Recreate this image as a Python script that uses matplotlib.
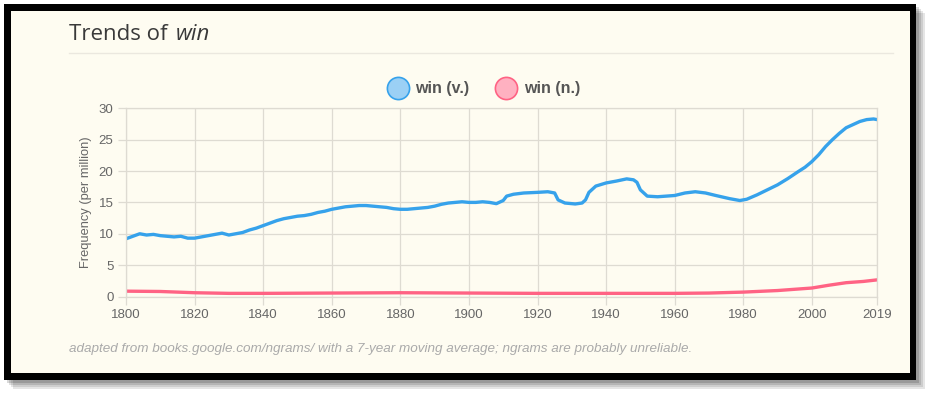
import matplotlib.pyplot as plt
from matplotlib.patches import Rectangle
from matplotlib.lines import Line2D

# ── Data ─────────────────────────────────────────────────────────────────
verb_years = [1800, 1802, 1804, 1806, 1808, 1810, 1812, 1814, 1816, 1818,
              1820, 1822, 1824, 1826, 1828, 1830, 1832, 1834, 1836, 1838,
              1840, 1842, 1844, 1846, 1848, 1850, 1852, 1854, 1856, 1858,
              1860, 1862, 1864, 1866, 1868, 1870, 1872, 1874, 1876, 1878,
              1880, 1882, 1884, 1886, 1888, 1890, 1892, 1894, 1896, 1898,
              1900, 1902, 1904, 1906, 1908, 1910, 1911, 1913, 1916, 1920,
              1923, 1925, 1926, 1928, 1931, 1933, 1934, 1935, 1937, 1940,
              1943, 1946, 1948, 1949, 1950, 1952, 1955, 1960, 1963, 1966,
              1969, 1972, 1976, 1979, 1981, 1984, 1987, 1990, 1993, 1996,
              1998, 2000, 2002, 2004, 2006, 2008, 2010, 2012, 2014, 2016,
              2018, 2019]
verb_freq = [9.2, 9.6, 10.0, 9.8, 9.9, 9.7, 9.6, 9.5, 9.6, 9.3,
             9.3, 9.5, 9.7, 9.9, 10.1, 9.8, 10.0, 10.2, 10.6, 10.9,
             11.3, 11.7, 12.1, 12.4, 12.6, 12.8, 12.9, 13.1, 13.4, 13.6,
             13.9, 14.1, 14.3, 14.4, 14.5, 14.5, 14.4, 14.3, 14.2, 14.0,
             13.9, 13.9, 14.0, 14.1, 14.2, 14.4, 14.7, 14.9, 15.0, 15.1,
             15.0, 15.0, 15.1, 15.0, 14.8, 15.3, 16.0, 16.3, 16.5, 16.6,
             16.7, 16.5, 15.4, 14.9, 14.75, 14.9, 15.4, 16.6, 17.6, 18.1,
             18.4, 18.75, 18.6, 18.2, 17.0, 16.0, 15.9, 16.1, 16.5, 16.7,
             16.5, 16.1, 15.6, 15.3, 15.5, 16.2, 17.0, 17.8, 18.8, 19.9,
             20.6, 21.5, 22.6, 23.9, 25.0, 26.0, 26.9, 27.4, 27.9, 28.2,
             28.3, 28.2]

noun_years = [1800, 1810, 1820, 1830, 1840, 1860, 1880, 1900, 1920, 1940,
              1960, 1970, 1980, 1990, 2000, 2005, 2010, 2015, 2019]
noun_freq = [0.85, 0.8, 0.6, 0.5, 0.5, 0.55, 0.6, 0.55, 0.5, 0.5,
             0.5, 0.55, 0.7, 0.95, 1.35, 1.8, 2.2, 2.4, 2.65]

x_ticks = [1800, 1820, 1840, 1860, 1880, 1900, 1920, 1940, 1960, 1980, 2000, 2019]
y_ticks = [0, 5, 10, 15, 20, 25, 30]

BLUE = "#36a2eb"
PINK = "#ff6384"
BG = "#fefcf1"
GRID = "#dedbd2"
TEXT = "#666666"

W, H = 929, 393
fig = plt.figure(figsize=(W / 100, H / 100), dpi=100)
fig.patch.set_facecolor("white")


def px_rect(x0, y0, x1, y1, **kw):
    # rectangle given in pixel coords (origin top-left)
    return Rectangle((x0 / W, 1 - y1 / H), (x1 - x0) / W, (y1 - y0) / H,
                     transform=fig.transFigure, **kw)


# ── Frame with soft shadow ───────────────────────────────────────────────
for i, a in enumerate([0.10, 0.10, 0.12, 0.15]):
    off = 9 - 2 * i
    fig.patches.append(px_rect(4 + off, 4 + off, 916 + off, 380 + off,
                               facecolor="black", alpha=a, linewidth=0, zorder=-5))
fig.patches.append(px_rect(4, 4, 916, 380, facecolor="black", linewidth=0, zorder=-4))
fig.patches.append(px_rect(11, 11, 910, 373, facecolor=BG, linewidth=0, zorder=-3))

# title + rule
fig.text(69 / W, 1 - 34 / H, "Trends of ", fontsize=16, color="#3a3a3a",
         family="Open Sans", va="center", ha="left")
fig.text(176 / W, 1 - 34 / H, "win", fontsize=16, color="#3a3a3a",
         family="Open Sans", style="italic", va="center", ha="left")
fig.lines.append(Line2D([69 / W, 893 / W], [1 - 53 / H] * 2, color="#ebe8df",
                        linewidth=1, transform=fig.transFigure))

# ── Axes ─────────────────────────────────────────────────────────────────
ax = fig.add_axes([126 / W, 1 - 296.5 / H, 751 / W, 188.2 / H])
ax.set_zorder(5)
ax.set_facecolor(BG)
ax.plot(verb_years, verb_freq, color=BLUE, linewidth=2.4, solid_capstyle="round")
ax.plot(noun_years, noun_freq, color=PINK, linewidth=2.4, solid_capstyle="round")

ax.set_xlim(1800, 2019)
ax.set_ylim(0, 30)
ax.set_xticks(x_ticks)
ax.set_yticks(y_ticks)
ax.grid(True, color=GRID, linewidth=0.9)
ax.set_axisbelow(True)
for s in ax.spines.values():
    s.set_color(GRID)
    s.set_linewidth(0.9)
ax.tick_params(colors=GRID, length=6, width=0.9, labelcolor=TEXT,
               labelsize=9.5, pad=3)
for lab in ax.get_xticklabels() + ax.get_yticklabels():
    lab.set_family("Liberation Sans")
ax.set_ylabel("Frequency (per million)", color=TEXT, fontsize=9.3,
              family="Liberation Sans", labelpad=5)

# ── Legend (circles) ─────────────────────────────────────────────────────
handles = [
    Line2D([], [], marker="o", linestyle="none", markersize=16,
           markerfacecolor="#9bd0f5", markeredgecolor=BLUE, markeredgewidth=1.2),
    Line2D([], [], marker="o", linestyle="none", markersize=16,
           markerfacecolor="#ffb1c1", markeredgecolor=PINK, markeredgewidth=1.2),
]
leg = fig.legend(handles, ["win (v.)", "win (n.)"], loc="center",
                 bbox_to_anchor=(481 / W, 1 - 89 / H), ncol=2, frameon=False,
                 handletextpad=0.1, columnspacing=1.3,
                 prop={"family": "Liberation Sans", "weight": "bold", "size": 11.5})
for t in leg.get_texts():
    t.set_color("#555555")

# footer
fig.text(69 / W, 1 - 349 / H,
         "adapted from books.google.com/ngrams/ with a 7-year moving average; "
         "ngrams are probably unreliable.",
         fontsize=9.7, color="#aaaaaa", style="italic", family="Liberation Sans",
         va="center", ha="left")

plt.savefig("out.png", dpi=100, facecolor=fig.get_facecolor())
